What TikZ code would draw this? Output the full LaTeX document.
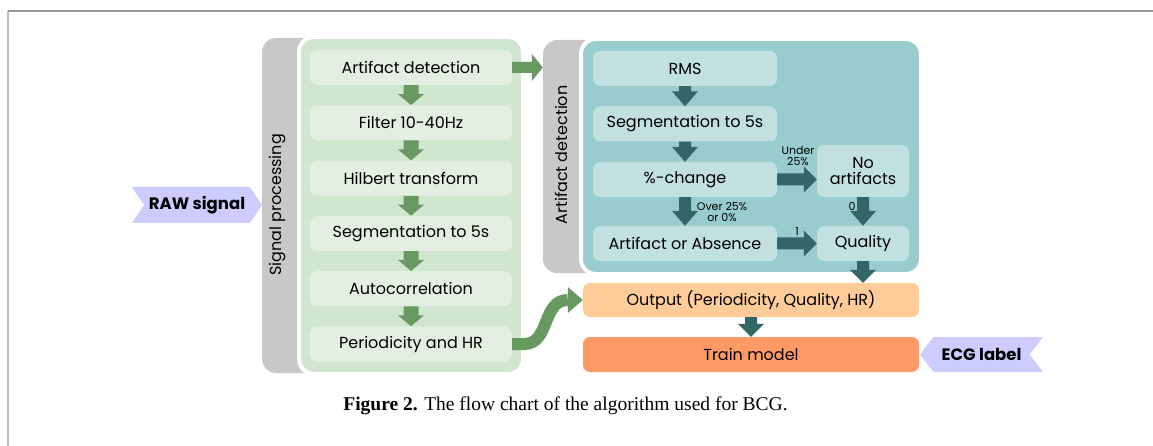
\documentclass[tikz,border=0pt]{standalone}
\usepackage{fontspec}
\setmainfont{Poppins}
\newfontfamily\capfont{Liberation Serif}
\usetikzlibrary{calc,shapes.symbols}
\definecolor{gpanel}{RGB}{208,230,206}
\definecolor{gbox}{RGB}{226,239,225}
\definecolor{garrow}{RGB}{104,153,96}
\definecolor{tpanel}{RGB}{153,204,204}
\definecolor{tbox}{RGB}{195,224,224}
\definecolor{tarrow}{RGB}{51,102,102}
\definecolor{outc}{RGB}{255,204,153}
\definecolor{trainc}{RGB}{255,153,102}
\definecolor{lav}{RGB}{204,204,255}
\definecolor{bandc}{RGB}{200,200,200}
\newcommand{\fatv}[6]{%
  \fill[#6] let \p1=(#1), \p2=(#2) in
    (\x1-#3pt,\y1) -- (\x1-#3pt,\y2+#5pt) -- (\x1-#4pt,\y2+#5pt) -- (\x1,\y2)
    -- (\x1+#4pt,\y2+#5pt) -- (\x1+#3pt,\y2+#5pt) -- (\x1+#3pt,\y1) -- cycle;}
\newcommand{\fath}[6]{%
  \fill[#6] let \p1=(#1), \p2=(#2) in
    (\x1,\y1-#3pt) -- (\x2-#5pt,\y1-#3pt) -- (\x2-#5pt,\y1-#4pt) -- (\x2,\y1)
    -- (\x2-#5pt,\y1+#4pt) -- (\x2-#5pt,\y1+#3pt) -- (\x1,\y1+#3pt) -- cycle;}
\begin{document}
\begin{tikzpicture}[x=1pt,y=-1pt,
  txt/.style={font=\fontsize{16}{17}\selectfont, text=black},
  band/.style={fill=bandc, rounded corners=14pt, inner sep=0pt},
  panel/.style={draw=white, line width=4pt, rounded corners=15pt, inner sep=0pt},
  gb/.style={txt, fill=gbox, rounded corners=7pt, minimum width=202pt, minimum height=35pt, inner sep=0pt},
  tb/.style={txt, fill=tbox, rounded corners=7pt, minimum height=35pt, inner sep=0pt},
  small/.style={font=\fontsize{11}{11.5}\selectfont, text=black, inner sep=0pt, align=center},
  sig/.style={signal, fill=lav, inner sep=0pt, minimum height=36pt, font=\bfseries\fontsize{16.5}{18}\selectfont}
]
\useasboundingbox (0,0) rectangle (1153,446);
% frame
\draw[color={rgb,255:red,190;green,190;blue,190}, line width=1.2pt] (8,11) -- (8,446);
\draw[color={rgb,255:red,150;green,150;blue,150}, line width=1.2pt] (8,11) -- (1153,11);

% signal processing
\node[band, minimum width=70pt, minimum height=335pt] (sband) at (297,205.5) {};
\node[panel, fill=gpanel, minimum width=224pt, minimum height=337pt] (gpan) at (411,205.5) {};
\node[txt, rotate=90] (stxt) at (278,205) {Signal processing};
\node[gb] (a1) at (411,67.5) {Artifact detection};
\node[gb] (a2) at (411,122.8) {Filter 10-40Hz};
\node[gb] (a3) at (411,178.1) {Hilbert transform};
\node[gb] (a4) at (411,233.4) {Segmentation to 5s};
\node[gb] (a5) at (411,288.7) {Autocorrelation};
\node[gb] (a6) at (411,344) {Periodicity and HR};
\fatv{a1.south}{a2.north}{7.5}{13}{11}{garrow}
\fatv{a2.south}{a3.north}{7.5}{13}{11}{garrow}
\fatv{a3.south}{a4.north}{7.5}{13}{11}{garrow}
\fatv{a4.south}{a5.north}{7.5}{13}{11}{garrow}
\fatv{a5.south}{a6.north}{7.5}{13}{11}{garrow}

% raw signal
\node[sig, signal to=east, signal from=west, signal pointer angle=112, minimum width=130pt] (raw) at (197,205) {RAW signal};

% artifact detection
\node[band, minimum width=70pt, minimum height=233pt] (tband) at (578,156.5) {};
\node[panel, fill=tpanel, minimum width=340pt, minimum height=235pt] (tpan) at (751,156.5) {};
\node[txt, rotate=90] (ttxt) at (561,155) {Artifact detection};
\node[tb, minimum width=184pt] (rms) at (685,68.5) {RMS};
\node[tb, minimum width=184pt] (seg) at (685,124) {Segmentation to 5s};
\node[tb, minimum width=184pt] (pc) at (685,179.5) {\%-change};
\node[tb, minimum width=184pt] (aa) at (685,243.5) {Artifact or Absence};
\node[tb, minimum width=92pt, minimum height=52pt, align=center] (na) at (863,171) {No\\[-1pt]artifacts};
\node[tb, minimum width=92pt] (q) at (863,243.5) {Quality};
\fatv{rms.south}{seg.north}{6}{13}{15}{tarrow}
\fatv{seg.south}{pc.north}{6}{13}{15}{tarrow}
\fatv{pc.south}{aa.north}{6}{13}{15}{tarrow}
\fatv{na.south}{q.north}{6}{13}{15}{tarrow}
\fath{pc.east}{na.west}{6}{13}{13}{tarrow}
\fath{aa.east}{q.west}{6}{13}{13}{tarrow}
\node[small] (l1) at (798,156) {Under\\25\%};
\node[small] (l2) at (722,212) {Over 25\%\\or 0\%};
\node[small] (l3) at (852,206) {0};
\node[small] (l4) at (797,232) {1};

% green connector to artifact detection
\fath{a1.east}{tband.west}{5.5}{13.5}{11}{garrow}

% output and train
\node[txt, fill=outc, rounded corners=7pt, minimum width=336pt, minimum height=34pt, inner sep=0pt] (out) at (751,300) {Output (Periodicity, Quality, HR)};
\node[txt, fill=trainc, rounded corners=7pt, minimum width=336pt, minimum height=35pt, inner sep=0pt] (train) at (751,354.5) {Train model};
\fatv{q.south}{out.north}{6}{13}{13}{tarrow}
\fatv{out.south}{train.north}{6}{13}{13}{tarrow}
\node[sig, signal to=west, signal from=east, signal pointer angle=105, minimum width=123pt, minimum height=35pt] (ecg) at (981.5,354.5) {ECG label};

% curved arrow
\coordinate (cb) at ($(out.west)+(-15,0)$);
\draw[garrow, line width=12pt] (a6.east) -- ++(12,0) .. controls +(26,0) and +(-26,0) .. (cb);
\fill[garrow] (cb) ++(0,-13) -- (out.west) -- ($(cb)+(0,13)$) -- cycle;

% caption
\node[font=\capfont\fontsize{19.5}{22}\selectfont, inner sep=0pt] (cap) at (565.5,406) {\textbf{Figure 2.} The flow chart of the algorithm used for BCG.};
\end{tikzpicture}
\end{document}
